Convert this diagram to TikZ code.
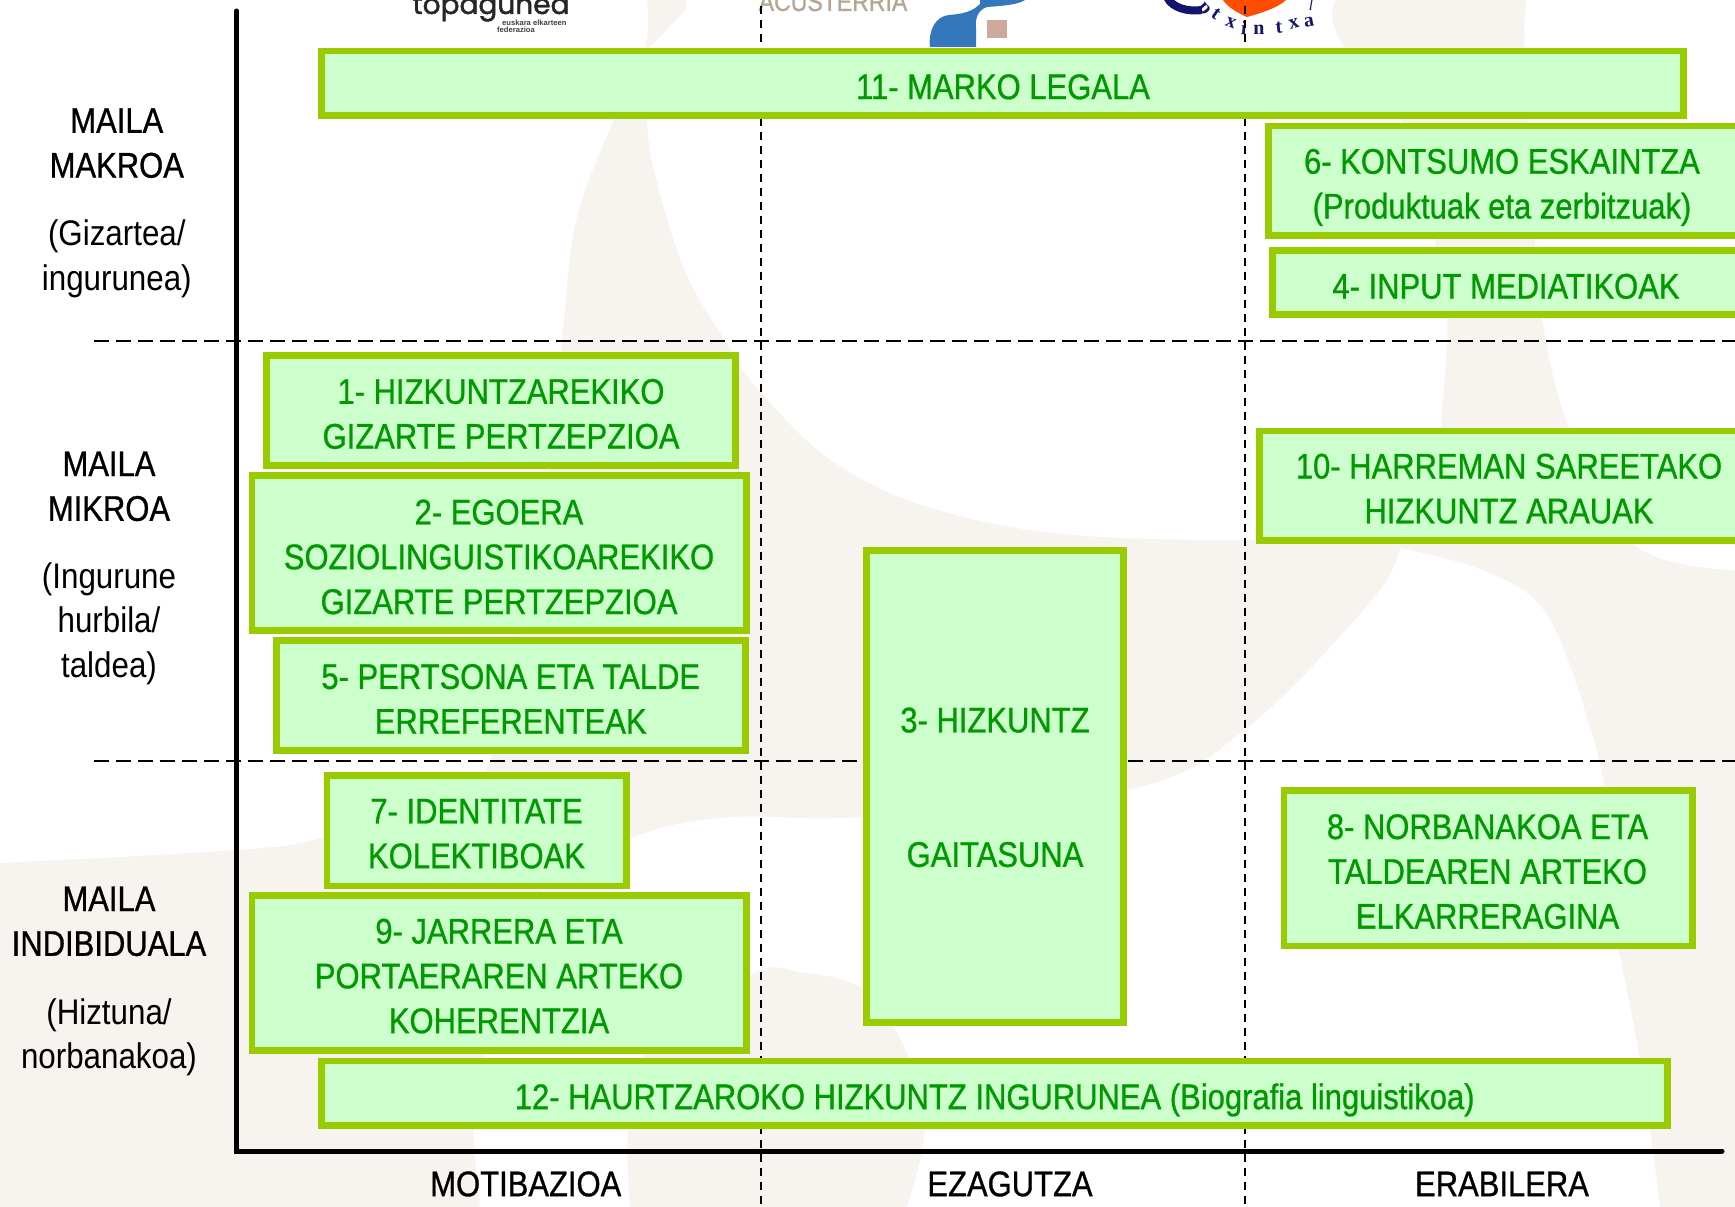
\documentclass[tikz,border=0pt]{standalone}
\usepackage{fontspec}
\setmainfont[FakeStretch=0.88]{Liberation Sans}
\newfontfamily\heavyf[FakeStretch=0.87,FakeBold=0.8]{Liberation Sans}
\newfontfamily\topfont[FakeBold=1.5]{Poppins}
\newfontfamily\plainf{Liberation Sans}
\newfontfamily\logoserif{Liberation Serif}
\definecolor{bgbeige}{HTML}{F7F3EF}
\definecolor{boxfill}{HTML}{CCFFCC}
\definecolor{boxline}{HTML}{99CC00}
\definecolor{boxtext}{HTML}{009900}
\definecolor{logonavy}{HTML}{14146E}
\definecolor{logoblue}{HTML}{3577BB}
\definecolor{logotan}{HTML}{CDA99B}
\definecolor{logoorange}{HTML}{FF4D00}
\definecolor{logobrown}{HTML}{B5A595}
\def\stt{\vrule width0pt height34pt depth10.8pt\relax}
\def\sttb{\vrule width0pt height34.6pt depth10.2pt\relax}
\tikzset{
  gbox/.style={draw=boxline,fill=boxfill,line width=6.6pt,inner sep=0pt,outer sep=0pt,rectangle},
  gtext/.style={text=boxtext,inner sep=0pt,outer sep=0pt,align=center,font=\heavyf\fontsize{35.6}{44.8}\selectfont},
  btext/.style={text=black,inner sep=0pt,outer sep=0pt,align=center,font=\heavyf\fontsize{35.6}{44.8}\selectfont},
  stext/.style={text=black,inner sep=0pt,outer sep=0pt,align=center,font=\fontsize{35.6}{44.8}\selectfont},
  hdash/.style={black,line width=2pt,dash pattern=on 14.5pt off 7.5pt},
  vdash/.style={black,line width=2pt,dash pattern=on 8.3pt off 5.7pt},
  axisline/.style={black,line width=5pt,line cap=round},
  ltr/.style={text=logonavy,inner sep=0pt,font=\logoserif\bfseries\fontsize{20}{20}\selectfont}
}
% name, L, T, R, B (outer edges)
\newcommand\gbox[5]{%
  \pgfmathsetmacro\gcx{(#2+#4)/2}\pgfmathsetmacro\gcy{(#3+#5)/2}%
  \pgfmathsetmacro\gw{#4-#2-6.6}\pgfmathsetmacro\gh{#5-#3-6.6}%
  \node[gbox,minimum width=\gw pt,minimum height=\gh pt] (#1) at (\gcx,\gcy) {};}
\begin{document}
\begin{tikzpicture}[x=1pt,y=-1pt]
\clip (0,0) rectangle (1735,1207);
% background watermark
\fill[bgbeige] (0,0) rectangle (1735,1207);
\fill[white] (0,0) -- (647,0) -- plot[smooth,tension=.6] coordinates {(647,0) (645,47) (613,121) (576,221) (562,339) (545,500) (491,757) (440,800) (322,838) (236,850) (0,863)} -- cycle;
\fill[white] (686,0) -- (686,10) -- (650,47) -- plot[smooth,tension=.6] coordinates {(650,47) (647,121) (656,178) (685,271) (724,339) (758,389) (831,460) (928,507) (1073,535) (1300,541) (1435,541)} -- plot[smooth,tension=.6] coordinates {(1435,541) (1441,427) (1447,318) (1435,240) (1420,150) (1340,40) (1335,0)} -- cycle;
\fill[white] (1527,0) -- plot[smooth,tension=.6] coordinates {(1527,0) (1525,47) (1535,240) (1542,318) (1569,427) (1635,545) (1735,570)} -- (1735,0) -- cycle;
\fill[white] plot[smooth,tension=.6] coordinates {(1400,548) (1485,571) (1545,612) (1586,714) (1606,800) (1610,900) (1640,1060) (1660,1207)} -- (907,1207) -- plot[smooth,tension=.6] coordinates {(907,1207) (925,1126) (907,1053) (866,991) (800,972) (750,975) (644,1055) (628,1130) (630,1207)} -- (480,1207) -- plot[smooth,tension=.6] coordinates {(480,1207) (474,1128) (484,1055) (542,890) (640,835) (733,817) (861,817) (1128,790) (1247,728) (1372,600) (1400,548)} -- cycle;
% logos
\node[inner sep=0pt,anchor=base,text=black!85,font=\topfont\fontsize{28}{28}\selectfont] (topa) at (491,14) {topagunea};
\node[inner sep=0pt,anchor=west,text=black!75,font=\plainf\bfseries\fontsize{7.6}{7.6}\selectfont] (topb) at (502,22.8) {euskara elkarteen};
\node[inner sep=0pt,anchor=west,text=black!75,font=\plainf\bfseries\fontsize{7.6}{7.6}\selectfont] (topc) at (497,30) {federazioa};
\node[inner sep=0pt,anchor=base,text=logobrown,font=\heavyf\fontsize{26.5}{27}\selectfont] (acus) at (833,11) {ACUSTERRIA};
\fill[logoblue] (930,47) .. controls (928,30) and (936,16) .. (949,15) .. controls (962,14) and (972,12) .. (980,4) -- (980,0) -- (1025,0) .. controls (1018,5) and (1000,6) .. (987,7) .. controls (978,10) and (975,18) .. (976,28) -- (976,47) -- cycle;
\fill[logotan] (987,20) rectangle (1007,38);
\draw[logonavy,line width=8pt] (1167,-3) .. controls (1172,8) and (1188,12) .. (1202,10);
\fill[logoorange] (1223,0) .. controls (1228,8) and (1240,14) .. (1247,17) .. controls (1258,14) and (1278,8) .. (1286,0) -- cycle;
\node[ltr,rotate=-50] (l1) at (1203,10) {p};
\node[ltr,rotate=-35] (l2) at (1216,14) {t};
\node[ltr,rotate=-20] (l3) at (1231,23) {x};
\node[ltr,rotate=-5] (l4) at (1244,28) {i};
\node[ltr] (l5) at (1259,30) {n};
\node[ltr,rotate=5] (l6) at (1279,28) {t};
\node[ltr,rotate=15] (l7) at (1294,24) {x};
\node[ltr,rotate=10] (l8) at (1309,22) {a};
\node[ltr,font=\logoserif\itshape\fontsize{15}{15}\selectfont] (l9) at (1311,5) {l};
% guides
\coordinate (va1) at (761,5.7); \coordinate (vb1) at (761,1207);
\coordinate (va2) at (1245,5.7); \coordinate (vb2) at (1245,1207);
\coordinate (ha1) at (94,340.5); \coordinate (hb1) at (1735,340.5);
\coordinate (ha2) at (94,760.5); \coordinate (hb2) at (1735,760.5);
\coordinate (axtop) at (236.8,11); \coordinate (axorg) at (236.8,1151); \coordinate (axend) at (1722,1151);
\draw[vdash] (va1) -- (vb1);
\draw[vdash] (va2) -- (vb2);
\draw[axisline] (axtop) -- (axorg) -- (axend);
\draw[hdash] (ha1) -- (hb1);
\draw[hdash] (ha2) -- (hb2);
% boxes
\gbox{b11}{318.4}{47.8}{1686.7}{118.6}
\gbox{b6}{1265}{122.5}{1760}{238.8}
\gbox{b4}{1269.3}{247.2}{1760}{318}
\gbox{b10}{1256}{427.5}{1760}{543.8}
\gbox{b1}{263.3}{352}{739}{469}
\gbox{b2}{248.5}{472.3}{750}{634}
\gbox{b5}{273}{637.2}{749}{754}
\gbox{b7}{323.5}{772.3}{630}{889.2}
\gbox{b9}{248.5}{892.3}{750}{1054}
\gbox{b12}{318.4}{1057.6}{1671}{1128.8}
\gbox{b3}{863.2}{547.3}{1126.8}{1025.5}
\gbox{b8}{1280.6}{787.4}{1696}{949.2}
% box texts
\node[gtext] (t11) at (1003,87.5) {\stt 11- MARKO LEGALA};
\node[gtext] (t6) at (1502,184.5) {\stt 6- KONTSUMO ESKAINTZA\\\stt (Produktuak eta zerbitzuak)};
\node[gtext] (t4) at (1506,287) {\stt 4- INPUT MEDIATIKOAK};
\node[gtext] (t10) at (1509,489.3) {\stt 10- HARREMAN SAREETAKO\\\stt HIZKUNTZ ARAUAK};
\node[gtext] (t1) at (501,414.6) {\stt 1- HIZKUNTZAREKIKO\\\stt GIZARTE PERTZEPZIOA};
\node[gtext] (t2) at (499,557.6) {\stt 2- EGOERA\\\stt SOZIOLINGUISTIKOAREKIKO\\\stt GIZARTE PERTZEPZIOA};
\node[gtext] (t5) at (510.7,699.7) {\stt 5- PERTSONA ETA TALDE\\\stt ERREFERENTEAK};
\node[gtext] (t7) at (476.5,834.2) {\stt 7- IDENTITATE\\\stt KOLEKTIBOAK};
\node[gtext] (t9) at (499,976.7) {\stt 9- JARRERA ETA\\\stt PORTAERAREN ARTEKO\\\stt KOHERENTZIA};
\node[gtext] (t12) at (994.7,1097.5) {\stt 12- HAURTZAROKO HIZKUNTZ INGURUNEA (Biografia linguistikoa)};
\node[gtext] (t3) at (995,788) {\stt 3- HIZKUNTZ\\\stt\\\stt\\\stt GAITASUNA};
\node[gtext] (t8) at (1487.5,872.2) {\stt 8- NORBANAKOA ETA\\\stt TALDEAREN ARTEKO\\\stt ELKARRERAGINA};
% left labels
\node[btext] (m1) at (116.8,143.6) {\stt MAILA\\\stt MAKROA};
\node[stext] (s1) at (116.8,256.4) {\stt (Gizartea/\\\stt ingurunea)};
\node[btext] (m2) at (109,486.8) {\stt MAILA\\\stt MIKROA};
\node[stext] (s2) at (109,621.3) {\stt (Ingurune\\\stt hurbila/\\\stt taldea)};
\node[btext] (m3) at (109,921.8) {\stt MAILA\\\stt INDIBIDUALA};
\node[stext] (s3) at (109,1034.8) {\stt (Hiztuna/\\\stt norbanakoa)};
% bottom labels
\node[btext] (x1) at (525.8,1184.6) {\stt MOTIBAZIOA};
\node[btext] (x2) at (1010,1184.6) {\stt EZAGUTZA};
\node[btext] (x3) at (1502,1184.6) {\stt ERABILERA};
\end{tikzpicture}
\end{document}
